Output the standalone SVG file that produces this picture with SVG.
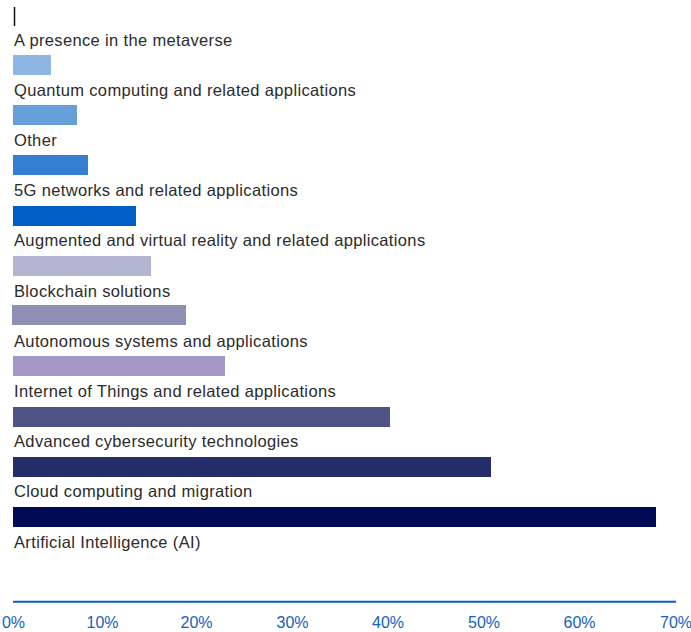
<svg xmlns="http://www.w3.org/2000/svg" width="691" height="632" viewBox="0 0 691 632">
<style>
.lbl{font-family:"Liberation Sans",Arial,sans-serif;font-size:16.5px;letter-spacing:0.35px;fill:#2b2b2b}
.tick{font-family:"Liberation Sans",Arial,sans-serif;font-size:16px;fill:#1560c0;text-anchor:middle}
</style>
<rect width="691" height="632" fill="#ffffff"/>
<line x1="14.5" y1="7" x2="14.5" y2="26" stroke="#111" stroke-width="1.5"/>
<g id="bar-metaverse"><text class="lbl" x="14" y="46">A presence in the metaverse</text><rect x="13" y="55" width="38" height="20" fill="#8fb5e4"/></g>
<g id="bar-quantum"><text class="lbl" x="14" y="96">Quantum computing and related applications</text><rect x="13" y="105" width="64" height="20" fill="#679fdb"/></g>
<g id="bar-other"><text class="lbl" x="14" y="146">Other</text><rect x="13" y="155" width="75" height="20" fill="#347fd0"/></g>
<g id="bar-5g"><text class="lbl" x="14" y="196">5G networks and related applications</text><rect x="13" y="206" width="123" height="20" fill="#005ec6"/></g>
<g id="bar-arvr"><text class="lbl" x="14" y="246">Augmented and virtual reality and related applications</text><rect x="13" y="256" width="138" height="20" fill="#b3b6d0"/></g>
<g id="bar-blockchain"><text class="lbl" x="14" y="297">Blockchain solutions</text><rect x="12" y="305" width="174" height="20" fill="#8d90b4"/></g>
<g id="bar-autonomous"><text class="lbl" x="14" y="347">Autonomous systems and applications</text><rect x="13" y="356" width="212" height="20" fill="#a598c6"/></g>
<g id="bar-iot"><text class="lbl" x="14" y="397">Internet of Things and related applications</text><rect x="13" y="407" width="377" height="20" fill="#4e5386"/></g>
<g id="bar-cyber"><text class="lbl" x="14" y="447">Advanced cybersecurity technologies</text><rect x="13" y="457" width="478" height="20" fill="#252c6a"/></g>
<g id="bar-cloud"><text class="lbl" x="14" y="497">Cloud computing and migration</text><rect x="13" y="507" width="643" height="20" fill="#000b55"/></g>
<g id="label-ai"><text class="lbl" x="14" y="548">Artificial Intelligence (AI)</text></g>
<g id="axis">
<line x1="13" y1="601.7" x2="676" y2="601.7" stroke="#0a5cc2" stroke-width="2"/>
<text class="tick" x="13.5" y="628">0%</text>
<text class="tick" x="102.5" y="628">10%</text>
<text class="tick" x="196.5" y="628">20%</text>
<text class="tick" x="292.5" y="628">30%</text>
<text class="tick" x="388" y="628">40%</text>
<text class="tick" x="484" y="628">50%</text>
<text class="tick" x="579.5" y="628">60%</text>
<text class="tick" x="676" y="628">70%</text>
</g>
</svg>
